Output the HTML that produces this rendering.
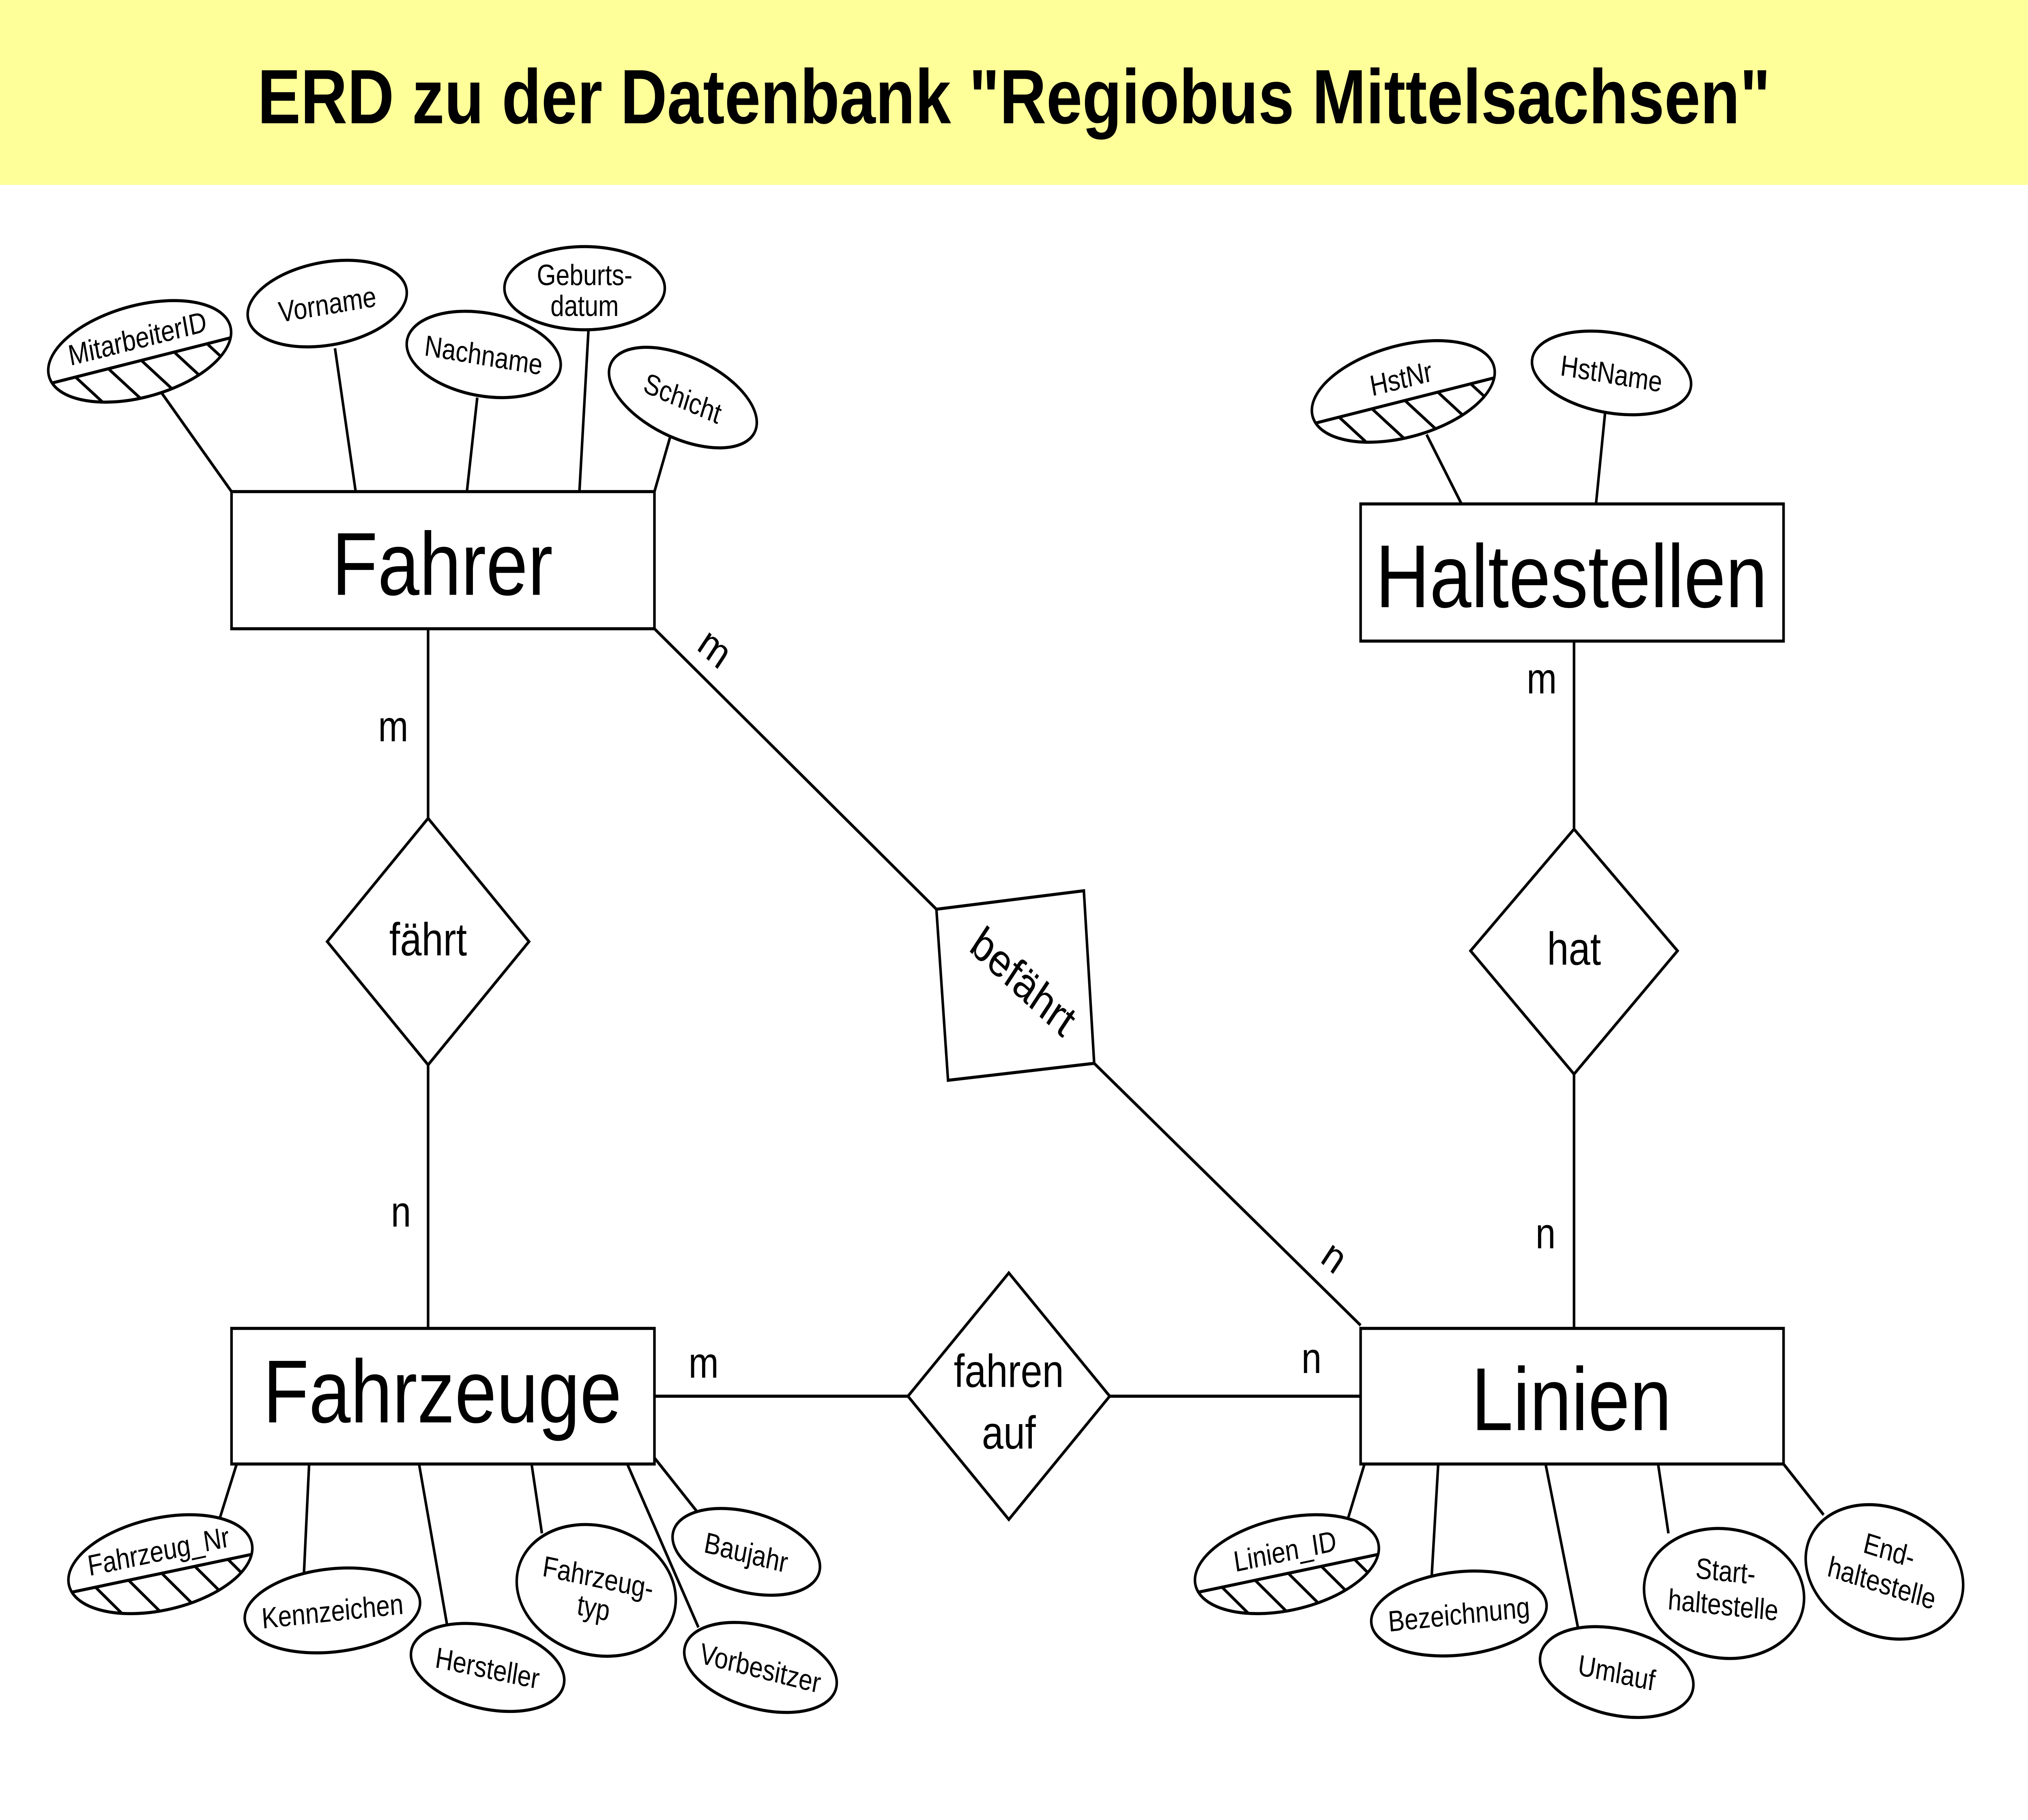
<!DOCTYPE html>
<html><head><meta charset="utf-8"><style>
html,body{margin:0;padding:0;background:#fff;width:100%;height:100%;overflow:hidden}
svg{display:block;width:100vw;height:100vh}
text{font-family:"Liberation Sans",sans-serif;fill:#000}
</style></head><body>
<svg viewBox="0 0 1568 1181" preserveAspectRatio="none" xmlns="http://www.w3.org/2000/svg">
<defs>
<clipPath id="ke"><ellipse cx="0" cy="0" rx="72" ry="30"/></clipPath>
<g id="key">
<ellipse cx="0" cy="0" rx="72" ry="30" fill="#fff" stroke="#000" stroke-width="2"/>
<g clip-path="url(#ke)" stroke="#000" stroke-width="2">
<line x1="-80" y1="6" x2="80" y2="6"/>
<line x1="-52" y1="6" x2="-30" y2="32"/>
<line x1="-26" y1="6" x2="-4" y2="32"/>
<line x1="0" y1="6" x2="22" y2="32"/>
<line x1="26" y1="6" x2="48" y2="32"/>
<line x1="52" y1="6" x2="74" y2="32"/>
</g>
</g>
</defs>
<rect x="0" y="0" width="1568" height="120" fill="#ffff99"/>
<text x="784" y="80" font-size="50" font-weight="bold" text-anchor="middle">ERD zu der Datenbank "Regiobus Mittelsachsen"</text>

<g stroke="#000" stroke-width="2" fill="none">
<line x1="331" y1="408" x2="331" y2="531"/>
<line x1="331" y1="691" x2="331" y2="862"/>
<line x1="506" y1="408" x2="724" y2="590"/>
<line x1="846" y1="690" x2="1052" y2="860"/>
<line x1="1217" y1="416" x2="1217" y2="538"/>
<line x1="1217" y1="697" x2="1217" y2="862"/>
<line x1="506" y1="906" x2="702" y2="906"/>
<line x1="858" y1="906" x2="1052" y2="906"/>
<line x1="125" y1="255" x2="179" y2="319"/>
<line x1="259" y1="226" x2="275" y2="319"/>
<line x1="369" y1="258" x2="361" y2="319"/>
<line x1="455" y1="214" x2="448" y2="319"/>
<line x1="518" y1="284" x2="506" y2="319"/>
<line x1="1103" y1="282" x2="1130" y2="327"/>
<line x1="1241" y1="268" x2="1234" y2="327"/>
<line x1="183" y1="950" x2="170" y2="985"/>
<line x1="239" y1="950" x2="235" y2="1021"/>
<line x1="324" y1="950" x2="346" y2="1056"/>
<line x1="411" y1="950" x2="419" y2="995"/>
<line x1="485" y1="950" x2="540" y2="1056"/>
<line x1="506" y1="946" x2="540" y2="982"/>
<line x1="1055" y1="950" x2="1042" y2="986"/>
<line x1="1112" y1="950" x2="1107" y2="1022"/>
<line x1="1195" y1="950" x2="1220" y2="1056"/>
<line x1="1282" y1="950" x2="1290" y2="995"/>
<line x1="1379" y1="950" x2="1410" y2="983"/>
</g>

<g stroke="#000" stroke-width="2" fill="#fff">
<rect x="179" y="319" width="327" height="89"/>
<rect x="1052" y="327" width="327" height="89"/>
<rect x="179" y="862" width="327" height="88"/>
<rect x="1052" y="862" width="327" height="88"/>
<polygon points="331,531 409,611 331,691 253,611"/>
<polygon points="1217,538 1297,617 1217,697 1137,617"/>
<polygon points="780,826 858,906 780,986 702,906"/>
<polygon points="724,590 838,578 846,690 733,701"/>
</g>
<text x="342" y="386" font-size="58" text-anchor="middle">Fahrer</text>
<text x="1215" y="394" font-size="58" text-anchor="middle">Haltestellen</text>
<text x="342" y="923" font-size="58" text-anchor="middle">Fahrzeuge</text>
<text x="1215" y="928" font-size="58" text-anchor="middle">Linien</text>
<text x="331" y="620" font-size="30" text-anchor="middle">fährt</text>
<text x="1217" y="626" font-size="30" text-anchor="middle">hat</text>
<text x="780" y="900" font-size="30" text-anchor="middle">fahren</text>
<text x="780" y="940" font-size="30" text-anchor="middle">auf</text>
<text transform="translate(785,645) rotate(38)" font-size="30" text-anchor="middle">befährt</text>

<g font-size="28" text-anchor="middle">
<text x="304" y="481">m</text>
<text x="310" y="796">n</text>
<text transform="translate(547,428) rotate(38)">m</text>
<text transform="translate(1026,823) rotate(38)">n</text>
<text x="1192" y="450">m</text>
<text x="1195" y="810">n</text>
<text x="544" y="894">m</text>
<text x="1014" y="891">n</text>
</g>

<g stroke="#000" stroke-width="2" fill="#fff">
<g transform="translate(253,197) rotate(-8)"><ellipse rx="62" ry="27"/></g>
<g transform="translate(374,230) rotate(8)"><ellipse rx="60" ry="27"/></g>
<g transform="translate(452,187)"><ellipse rx="62" ry="27"/></g>
<g transform="translate(528,258) rotate(20)"><ellipse rx="60" ry="27"/></g>
<g transform="translate(1246,242) rotate(8)"><ellipse rx="62" ry="26"/></g>
<g transform="translate(257,1045) rotate(-5)"><ellipse rx="68" ry="27"/></g>
<g transform="translate(377,1082) rotate(10)"><ellipse rx="60" ry="27"/></g>
<g transform="translate(461,1032) rotate(10)"><ellipse rx="62" ry="42"/></g>
<g transform="translate(577,1007) rotate(12)"><ellipse rx="58" ry="26"/></g>
<g transform="translate(588,1082) rotate(12)"><ellipse rx="60" ry="27"/></g>
<g transform="translate(1128,1047) rotate(-5)"><ellipse rx="68" ry="27"/></g>
<g transform="translate(1250,1085) rotate(10)"><ellipse rx="60" ry="28"/></g>
<g transform="translate(1333,1034) rotate(5)"><ellipse rx="62" ry="42"/></g>
<g transform="translate(1457,1020) rotate(15)"><ellipse rx="62" ry="42"/></g>
</g>
<use href="#key" transform="translate(108,228) rotate(-12)"/>
<use href="#key" transform="translate(1085,254) rotate(-12)"/>
<use href="#key" transform="translate(124,1015) rotate(-10)"/>
<use href="#key" transform="translate(995,1015) rotate(-10)"/>

<g font-size="19" text-anchor="middle">
<text transform="translate(108,228) rotate(-12)" y="-2">MitarbeiterID</text>
<text transform="translate(253,197) rotate(-8)" y="7">Vorname</text>
<text transform="translate(374,230) rotate(8)" y="7">Nachname</text>
<text transform="translate(452,187)" y="-2">Geburts-</text>
<text transform="translate(452,187)" y="18">datum</text>
<text transform="translate(528,258) rotate(20)" y="7">Schicht</text>
<text transform="translate(1085,254) rotate(-12)" y="-2">HstNr</text>
<text transform="translate(1246,242) rotate(8)" y="7">HstName</text>
<text transform="translate(124,1015) rotate(-10)" y="-2">Fahrzeug_Nr</text>
<text transform="translate(257,1045) rotate(-5)" y="7">Kennzeichen</text>
<text transform="translate(377,1082) rotate(10)" y="7">Hersteller</text>
<text transform="translate(461,1032) rotate(10)" y="-2">Fahrzeug-</text>
<text transform="translate(461,1032) rotate(10)" y="18">typ</text>
<text transform="translate(577,1007) rotate(12)" y="7">Baujahr</text>
<text transform="translate(588,1082) rotate(12)" y="7">Vorbesitzer</text>
<text transform="translate(995,1015) rotate(-10)" y="-2">Linien_ID</text>
<text transform="translate(1128,1047) rotate(-5)" y="7">Bezeichnung</text>
<text transform="translate(1250,1085) rotate(10)" y="7">Umlauf</text>
<text transform="translate(1333,1034) rotate(5)" y="-8">Start-</text>
<text transform="translate(1333,1034) rotate(5)" y="14">haltestelle</text>
<text transform="translate(1457,1020) rotate(15)" y="-8">End-</text>
<text transform="translate(1457,1020) rotate(15)" y="14">haltestelle</text>
</g>
</svg>
</body></html>
